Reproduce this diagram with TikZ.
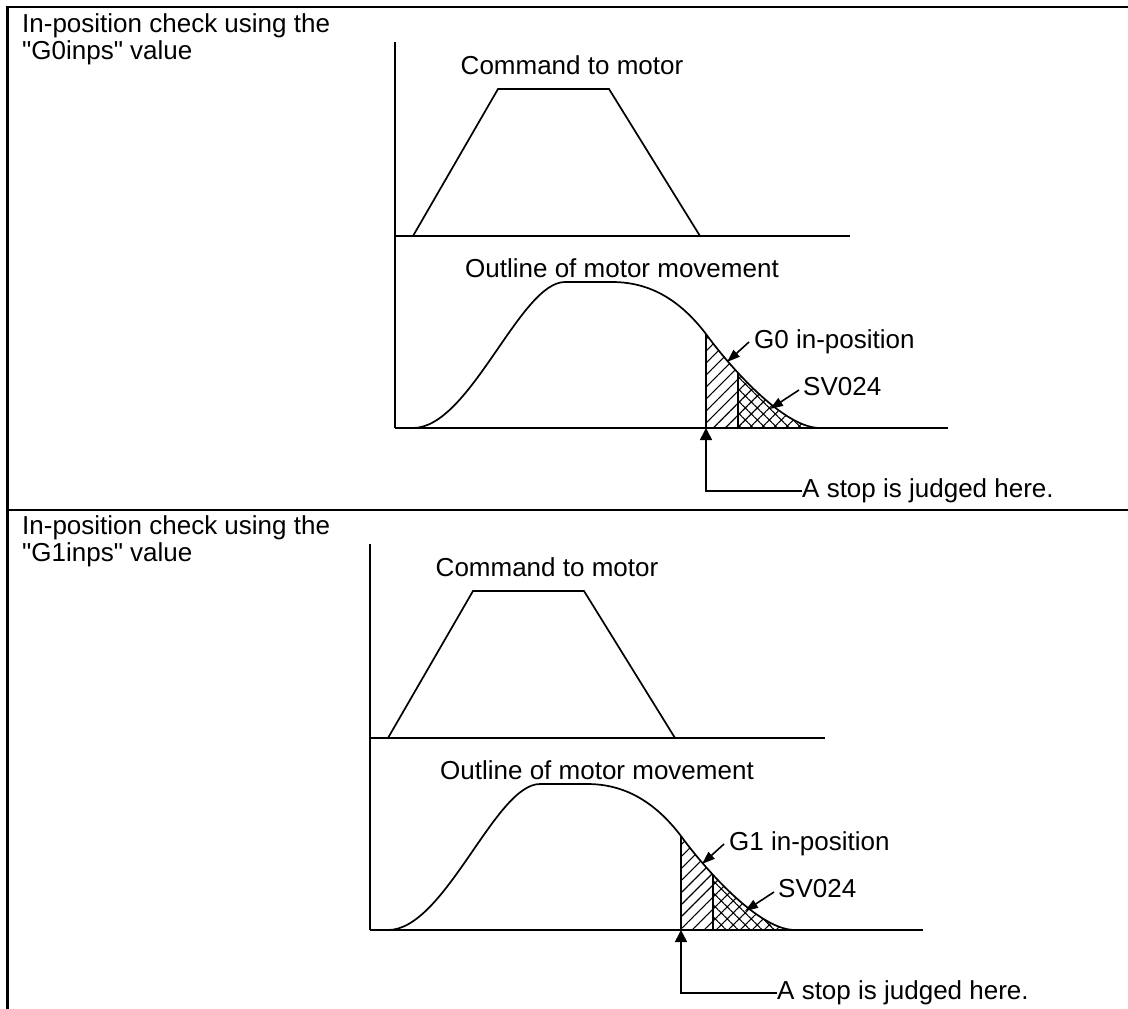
\documentclass[tikz,border=0pt]{standalone}
\usepackage{fontspec}
\setmainfont{Liberation Sans}
\usetikzlibrary{arrows.meta, patterns.meta, positioning}

% outline of the motor movement, used for the line and for the hatching
\newcommand\bellcurve{(413,428) .. controls (470,428) and (520,282) .. (565,282) -- (612,282)
  .. controls (650,282) and (680,300) .. (706,334) .. controls (721,355) and (780,428) .. (820,428)}

\begin{document}
\begin{tikzpicture}[
      x=1pt, y=-1pt,
      frame/.style={line width=2.2pt},
      axis/.style={line width=1.7pt},
      lbl/.style={inner sep=0pt, font=\fontsize{26}{27}\selectfont},
      pointer/.style={-{Triangle[length=13pt, width=9pt]}, line width=1.6pt},
      stoparrow/.style={-{Triangle[length=12pt, width=12pt]}, line width=1.6pt},
      single/.style={pattern={Lines[angle=45, distance=8.5pt, line width=1.1pt]}},
      cross/.style={pattern={Hatch[angle=45, distance=8.5pt, line width=1.1pt]}}
    ]
    \useasboundingbox (0,0) rectangle (1128,1009);

    % table frame
    \draw[frame] (1128,7) -| (7.5,1009);
    \draw[frame] (7.5,510) -- (1128,510);

    \foreach \g/\dx/\dy in {0/0/0, 1/-25/502}{
      \node[lbl, anchor=north west, align=left] (title\g) at (22,{13+\dy})
        {In-position check using the\\\textquotedbl G\g inps\textquotedbl{} value};

      \begin{scope}[shift={(\dx,\dy)}]
        % axes
        \draw[axis] (395,42) -- (395,428);
        \draw[axis] (395,236) -- (850,236);
        \draw[axis] (395,428) -- (948,428);

        % command to motor
        \draw[axis] (413,236) -- (498,89) -- (609,89) -- (700,236);
        \node[lbl] (cmd\g) at (572,65) {Command to motor};

        % motor movement
        \node[lbl] (outline\g) at (622,268) {Outline of motor movement};
        \draw[axis] \bellcurve;
        \begin{scope}
          \clip \bellcurve -- cycle;
          \fill[single] (706,270) rectangle (738,428);
          \fill[cross] (738,270) rectangle (830,428);
          \draw[axis] (706,270) -- (706,428) (738,270) -- (738,428);
        \end{scope}

        \coordinate (tipG\g) at (727,362);
        \coordinate (tipS\g) at (770,409);
        \coordinate (stop\g) at (706,428);

        \node[lbl, anchor=west] (inpos\g) at (754,342) {G\g\ in-position};
        \node[lbl, anchor=west] (sv\g) at (803,387) {SV024};
        \node[lbl, anchor=west] (judge\g) at (802,491) {A stop is judged here.};

        \draw[pointer] ([xshift=-5pt]inpos\g.west) -- (tipG\g);
        \draw[pointer] ([xshift=-4pt, yshift=-3pt]sv\g.west) -- (tipS\g);
        \draw[stoparrow] (judge\g.west) -| (stop\g);
      \end{scope}
    }
  \end{tikzpicture}
\end{document}
